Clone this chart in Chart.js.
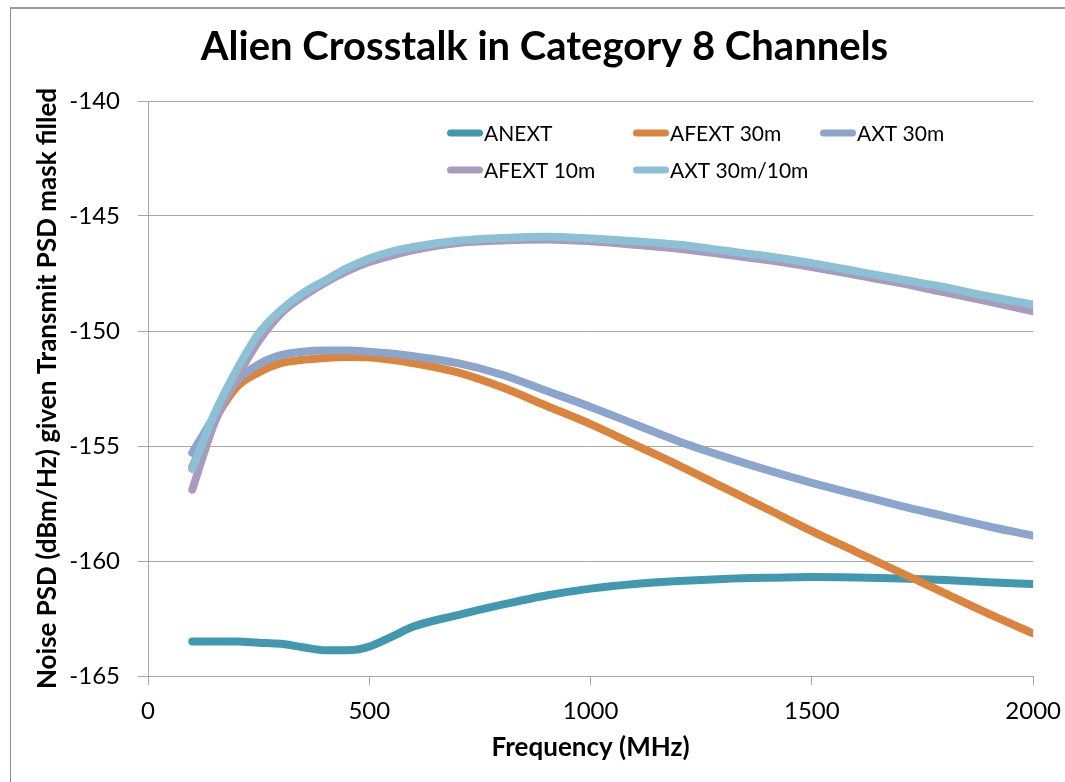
<!DOCTYPE html>
<html>
<head>
<meta charset="utf-8">
<script src="https://cdn.jsdelivr.net/npm/chart.js@4.4.0/dist/chart.umd.min.js"></script>
<style>
  html, body { margin: 0; padding: 0; background: #fff; }
  #wrap { position: relative; width: 1065px; height: 782px; overflow: hidden; }
  #frame { position: absolute; left: 10px; top: 7px; width: 1080px; height: 800px;
           border-left: 1px solid #8c8c8c; border-top: 2px solid #9a9a9a; }
  canvas { position: absolute; left: 0; top: 0; }
</style>
</head>
<body>
<div id="wrap">
  <div id="frame"></div>
  <canvas id="thisChart" width="1073" height="782"></canvas>
</div>
<script>
// frequency points (MHz)
const freq = [100,150,200,250,300,350,400,450,500,550,600,700,800,900,1000,1100,1200,1300,1400,1500,1600,1700,1800,1900,2000]

// noise PSD (dBm/Hz)
const anext   = [-163.5,-163.5,-163.5,-163.55,-163.6,-163.75,-163.88,-163.88,-163.72,-163.3,-162.85,-162.35,-161.9,-161.5,-161.2,-161.0,-160.87,-160.78,-160.73,-160.7,-160.72,-160.76,-160.83,-160.92,-161.0]
const afext30 = [-155.9,-153.9,-152.45,-151.8,-151.4,-151.25,-151.17,-151.13,-151.15,-151.25,-151.4,-151.8,-152.45,-153.25,-154.05,-154.95,-155.85,-156.8,-157.75,-158.7,-159.6,-160.5,-161.4,-162.3,-163.15]
const axt30   = [-155.3,-153.7,-152.2,-151.45,-151.05,-150.9,-150.85,-150.85,-150.9,-150.98,-151.1,-151.4,-151.9,-152.6,-153.3,-154.05,-154.8,-155.45,-156.05,-156.6,-157.1,-157.6,-158.05,-158.5,-158.9]
const afext10 = [-156.9,-154.0,-152.05,-150.45,-149.25,-148.5,-147.9,-147.4,-147.0,-146.72,-146.48,-146.17,-146.06,-146.02,-146.1,-146.25,-146.42,-146.66,-146.92,-147.22,-147.57,-147.92,-148.32,-148.72,-149.15]
const axt3010 = [-156.0,-153.6,-151.7,-150.1,-149.1,-148.35,-147.8,-147.27,-146.85,-146.55,-146.35,-146.08,-145.96,-145.9,-145.98,-146.1,-146.25,-146.5,-146.75,-147.05,-147.4,-147.75,-148.1,-148.5,-148.85]

const labels = ["ANEXT", "AFEXT 30m", "AXT 30m", "AFEXT 10m", "AXT 30m/10m"]
const colors = ["#4198AF", "#DB843D", "#8BA5CC", "#A99BBD", "#8CC0D4"]
const series = [anext, afext30, axt30, afext10, axt3010]

const FONT = "Lato"

// legend slots inside the plot, two rows like the original
const legendPos = [[447,133],[633,133],[820,133],[447,170],[633,170]]

const legendPlugin = {
  id: "insideLegend",
  afterDraw(chart) {
    const ctx = chart.ctx
    ctx.save()
    chart.data.datasets.forEach((ds, i) => {
      const [x, y] = legendPos[i]
      ctx.strokeStyle = ds.borderColor
      ctx.lineWidth = 7
      ctx.lineCap = "round"
      ctx.beginPath()
      ctx.moveTo(x + 3.5, y)
      ctx.lineTo(x + 32.5, y)
      ctx.stroke()
      ctx.fillStyle = "#000"
      ctx.font = "21px " + FONT
      ctx.textBaseline = "middle"
      ctx.fillText(ds.label, x + 37, y + 1)
    })
    ctx.restore()
  }
}

//setup
const data = {
  datasets: series.map((vals, i) => ({
    label: labels[i],
    data: vals.map((v, j) => ({ x: freq[j], y: v })),
    borderColor: colors[i],
    backgroundColor: colors[i],
    borderWidth: 8,
    borderCapStyle: "round",
    borderJoinStyle: "round",
    pointRadius: 0,
    cubicInterpolationMode: "monotone",
    fill: false,
    order: series.length - i,
  })),
}

//config
const config = {
  type: "line",
  data,
  plugins: [legendPlugin],
  options: {
    responsive: false,
    animation: false,
    layout: { padding: { left: 16, right: 0, top: 0, bottom: 0 } },
    plugins: {
      legend: { display: false },
      tooltip: { enabled: false },
      title: {
        display: true,
        text: "Alien Crosstalk in Category 8 Channels",
        color: "#000",
        font: { family: FONT, size: 40, weight: "bold" },
        padding: { top: 23, bottom: 30 },
      },
    },
    scales: {
      x: {
        type: "linear",
        min: 0,
        max: 2000,
        ticks: { stepSize: 500, color: "#000", font: { family: FONT, size: 24 }, padding: 12, maxRotation: 0,
                 callback: (v) => String(v) },
        grid: { drawOnChartArea: false, drawTicks: true, tickLength: 9, color: "#a6a6a6" },
        border: { display: true, color: "#a6a6a6" },
        title: {
          display: true,
          text: "Frequency (MHz)",
          color: "#000",
          font: { family: FONT, size: 26, weight: "bold" },
          padding: { top: 0, bottom: 19 },
        },
        afterFit: (s) => { s.height = 106 },
      },
      y: {
        min: -165,
        max: -140,
        ticks: { stepSize: 5, color: "#000", font: { family: FONT, size: 24 }, padding: 18,
                 callback: (v) => String(v) },
        grid: { color: "#a6a6a6", tickLength: 10 },
        border: { display: true, color: "#a6a6a6" },
        title: {
          display: true,
          text: "Noise PSD (dBm/Hz) given Transmit PSD mask filled",
          color: "#000",
          font: { family: FONT, size: 26, weight: "bold" },
          padding: { top: 16, bottom: 0 },
        },
        afterFit: (s) => { s.width = 132 },
      },
    },
  },
}

const lineChart = new Chart(document.getElementById("thisChart").getContext("2d"), config)
</script>
</body>
</html>
